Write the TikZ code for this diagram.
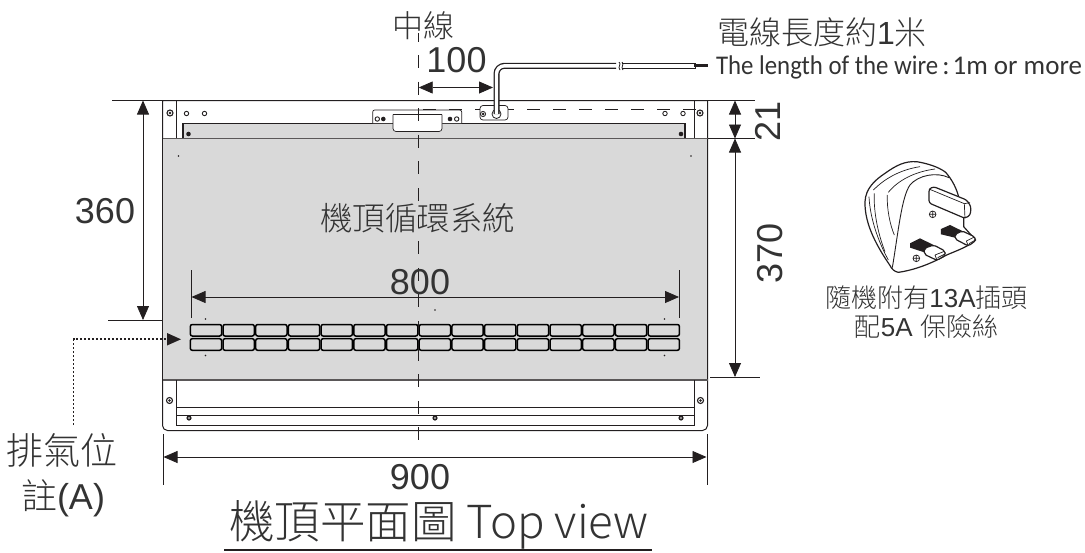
\documentclass[tikz,border=0pt]{standalone}
\usepackage{fontspec}
\usepackage{graphicx}
\setmainfont{Liberation Sans}
\newfontfamily\cjk{Noto Sans CJK TC Light}
\newfontfamily\carl{Carlito}
\usetikzlibrary{arrows.meta,calc}
\definecolor{ink}{HTML}{231F20}
\definecolor{txt}{HTML}{333333}
\definecolor{panel}{HTML}{D9D9D9}
\newcommand{\fsz}[1]{\fontsize{#1}{#1}\selectfont}
\tikzset{
  x=1pt,y=-1pt,
  every node/.style={inner sep=0pt,outer sep=0pt,text=txt},
  dimline/.style={draw=ink,line width=0.8pt},
  dimarrow/.style={dimline,{Triangle[length=14pt,width=12pt]}-{Triangle[length=14pt,width=12pt]}},
  extline/.style={draw=ink,line width=0.8pt},
  body/.style={draw=ink,line width=1pt},
  thin body/.style={draw=ink,line width=0.7pt},
  vent/.style={draw=black,line width=1.5pt,rounded corners=2pt,fill=panel},
  centreline/.style={draw=ink,line width=1.4pt,dash pattern=on 13pt off 13.6pt},
  hidden/.style={draw=ink,line width=1.2pt,dash pattern=on 13pt off 13pt},
  ring/.pic={\draw[ink,line width=0.9pt,fill=white] (0,0) circle (2.2);},
  bigring/.pic={\draw[ink,line width=1.1pt,fill=white] (0,0) circle (3); \fill[ink] (0,0) circle (1.3);},
  blackring/.pic={\fill[ink] (0,0) circle (2.6); \fill[white] (0,0) circle (0.8);},
  dot/.pic={\fill[ink] (0,0) circle (0.9);},
  plugline/.style={draw=ink,line width=0.7pt},
  plugedge/.style={draw=ink,line width=1.2pt,line join=round},
}
\begin{document}
\begin{tikzpicture}
\useasboundingbox (0,0) rectangle (1085,552);
% panel body
\draw[body,fill=white] (162.5,425) -- (162.5,100.5) -- (707.5,100.5) -- (707.5,425) [rounded corners=5pt] -- (707.5,430.5) -- (162.5,430.5) -- (162.5,425);
\draw[thin body] (176,100.5) -- (176,138.5) (694.5,100.5) -- (694.5,138.5);
\draw[body,fill=panel,line width=1.1pt] (183,138.5) -- (183,123.5) -- (685,123.5) -- (685,138.5);
\fill[panel] (163,138.5) rectangle (707,380);
\draw[draw=ink!75,line width=1pt] (162.5,138.5) -- (707.5,138.5);
\draw[body] (162.5,138.5) -- (162.5,380) (707.5,138.5) -- (707.5,380);
\draw[draw=ink!75,line width=1.1pt] (162.5,380) -- (707.5,380);
\draw[thin body] (176,380) -- (176,425) -- (694.5,425) -- (694.5,380);
\draw[thin body] (176,407.5) -- (694.5,407.5) (176,415.5) -- (694.5,415.5);
% bracket, hidden line, wire clamp
\draw[thin body,fill=white,rounded corners=2pt] (372.7,123) -- (372.7,110) -- (461.7,110) -- (461.7,123);
\draw[thin body,fill=white,rounded corners=3pt] (393,114.5) -- (393,131.5) -- (442,131.5) -- (442,114.5);
\draw[thin body] (393,114.5) -- (442,114.5);
\draw[hidden] (423,109.5) -- (700,109.5);
\draw[thin body,fill=white,rounded corners=3pt] (480,105.5) rectangle (508,120);
\draw[ink,line width=0.8pt] (496.5,114) circle (4.5);
\draw[ink,line width=0.8pt] (483,114) circle (2.6);
\fill[ink] (483,114) circle (1.5);
% wire
\coordinate (wireA) at (496.5,114);
\coordinate (wireB) at (696,65.8);
\draw[ink,line width=6pt,rounded corners=8pt] (wireA) -- (496.5,65.8) -- (616,65.8);
\draw[white,line width=3.4pt,rounded corners=8pt] (wireA) -- (496.5,65.8) -- (617,65.8);
\draw[ink,line width=6pt] (622,65.8) -- (wireB);
\draw[white,line width=3.4pt] (621,65.8) -- (695,65.8);
\draw[ink,line width=0.8pt] (619,62) .. controls (622,64) and (617,67) .. (620,70);
\draw[ink,line width=0.8pt] (622,62) .. controls (625,64) and (620,67) .. (623,70);
\draw[ink,line width=3pt] (694,65.8) -- (708,65.8);
% vents
\foreach \i in {0,...,14}{
  \draw[vent] ({190.3+32.7*\i},324.5) rectangle ({221.6+32.7*\i},336);
  \draw[vent] ({190.3+32.7*\i},338.7) rectangle ({221.6+32.7*\i},350.3);
}
% fasteners
\foreach \p in {(170,113),(700,113),(169.5,400.5),(700.5,400.5)} \pic at \p {bigring};
\foreach \p in {(186.5,113.5),(204.5,113.5),(665,113.5),(683,113.5),(377.3,119),(456.7,119)} \pic at \p {ring};
\foreach \p in {(188.5,134),(681,134),(383.3,119),(450,119)} {\fill[ink] \p circle (2.3);}
\foreach \p in {(189,418),(435,418),(681,418)} \pic at \p {blackring};
\foreach \p in {(178.5,156),(691,156),(205.5,319),(205.5,355.5),(664.5,319),(664.5,355.5),(435,310)} \pic at \p {dot};
% centre line
\coordinate (clBot) at (418.7,443);
\draw[ink,line width=1.3pt] (418.7,33) -- (418.7,42);
\draw[centreline] (418.7,55) -- (clBot);
% labels
\node (zx) at (423,26) {\cjk\fsz{31}中線};
\node (d100) at (456.5,60) {\fsz{36}100};
\node (wirezh) at (822,32) {\cjk\fsz{32}電線長度約\fontspec{Liberation Sans}1\cjk 米};
\node[anchor=east] (wireen) at (1082,67) {\carl\fsz{27}\scalebox{0.92}[1]{The length of the wire}\hspace{4pt}:\hspace{3pt}1m or more};
\node (sys) at (417.5,218) {\cjk\fsz{32.5}機頂循環系統};
\node (d800) at (420,282) {\fsz{36}800};
\node (d360) at (105,211) {\fsz{36}360};
\node (d900) at (420,477) {\fsz{36}900};
\node[rotate=90] (d370) at (770,253) {\fsz{36}370};
\node[rotate=90] (d21) at (768,121) {\fsz{36}21};
\node (plug1) at (926.5,298) {\cjk\fsz{26}隨機附有\fontspec{Liberation Sans}13A\cjk 插頭};
\node (plug2) at (926.5,327) {\cjk\fsz{26}配\fontspec{Liberation Sans}5A \cjk 保險絲};
\node (vent1) at (62,450) {\cjk\fsz{37}排氣位};
\node (vent2) at (63,498) {\cjk\fsz{36}註\fontspec{Liberation Sans}(A)};
\node (title) at (439,525) {\cjk\fsz{45.5}機頂平面圖 Top view};
\coordinate (ulA) at (224,550);
\coordinate (ulB) at (652,550);
\draw[ink,line width=1.3pt] (ulA) -- (ulB);
% dimensions
\coordinate (a100) at (418.7,87.5); \coordinate (b100) at (493,87.5);
\draw[dimarrow] (a100) -- (b100);
\coordinate (a360) at (143,100.5); \coordinate (b360) at (143,320);
\draw[extline] (112,100.5) -- (162.5,100.5) (108,320) -- (162.5,320);
\draw[dimarrow] (a360) -- (b360);
\coordinate (a800) at (191.5,297); \coordinate (b800) at (679,297);
\draw[extline] (191.5,270) -- (191.5,318) (679,270) -- (679,318);
\draw[dimarrow] (a800) -- (b800);
\coordinate (a900) at (163.5,457); \coordinate (b900) at (706.5,457);
\draw[extline] (163.5,434) -- (163.5,485) (707.5,434) -- (707.5,485);
\draw[dimarrow] (a900) -- (b900);
\coordinate (a370) at (735,138.5); \coordinate (b370) at (735,377);
\draw[extline] (708,100.5) -- (755,100.5) (708,138.5) -- (755,138.5) (710,377) -- (760,377);
\draw[dimarrow] (a370) -- (b370);
\coordinate (a21) at (735,100.5); \coordinate (b21) at (735,138.5);
\draw[dimarrow] (a21) -- (b21);
% exhaust pointer
\coordinate (ventTip) at (181,339.3);
\coordinate (ventEnd) at (73.5,425);
\draw[ink,line width=1.8pt,dash pattern=on 2pt off 2pt] (ventEnd) -- (73.5,339.3) -- (167,339.3);
\fill[ink] (ventTip) -- (167,333) -- (167,345.5) -- cycle;
% plug
\begin{scope}[shift={(855,155)},x=0.3333pt,y=-0.3333pt]
\draw[plugedge,fill=white]
  (30,140) .. controls (32,100) and (60,75) .. (90,55)
  .. controls (125,30) and (150,18) .. (185,20)
  .. controls (215,25) and (250,35) .. (272,52)
  .. controls (292,75) and (305,100) .. (312,130)
  -- (326,190) -- (326,215) -- (362,255)
  .. controls (340,275) and (310,285) .. (275,300)
  .. controls (230,325) and (180,345) .. (130,352)
  .. controls (118,350) and (110,342) .. (104,330)
  .. controls (70,280) and (28,210) .. (30,140) -- cycle;
\draw[plugedge,line width=0.9pt] (282,68) .. controls (245,50) and (190,60) .. (165,90)
  .. controls (140,125) and (130,230) .. (112,338);
\draw[plugline] (100,112) .. controls (130,75) and (180,50) .. (240,42);
\draw[plugline] (55,105) .. controls (85,75) and (130,45) .. (195,35);
\draw[plugline] (42,125) .. controls (45,190) and (70,260) .. (100,315);
\draw[plugline] (58,115) .. controls (55,170) and (70,240) .. (90,290);
\draw[plugline] (97,120) .. controls (95,160) and (105,210) .. (118,240);
% earth pin
\draw[plugedge,fill=white,rounded corners=2.5pt] (222,102) -- (236,95) -- (335,135) -- (348,155) -- (346,180) -- (330,190) -- (222,144) -- cycle;
\draw[plugline] (222,102) -- (328,146) -- (330,190) (328,146) -- (345,143);
% lower pins
\fill[ink] (258,222) -- (285,210) -- (322,228) -- (300,248) -- (258,238) -- cycle;
\draw[plugedge,fill=white,rounded corners=2pt] (300,238) -- (322,228) -- (358,245) -- (363,256) -- (340,273) -- (300,252) -- cycle;
\draw[plugline] (334,258) -- (358,246) (334,258) -- (340,273) (342,266) -- (358,257);
\fill[ink] (165,265) -- (195,250) -- (236,270) -- (208,292) -- (165,278) -- cycle;
\draw[plugedge,fill=white,rounded corners=2pt] (208,280) -- (236,270) -- (270,288) -- (271,301) -- (246,316) -- (208,298) -- cycle;
\draw[plugline] (240,300) -- (268,289) (240,300) -- (246,316) (248,308) -- (268,298);
% earth marks
\draw[plugline] (233,178) circle (10) (233,170) -- (233,186) (225,178) -- (241,178);
\draw[plugline] (184,310) circle (10) (184,302) -- (184,318) (176,310) -- (192,310);
\end{scope}
\end{tikzpicture}
\end{document}
